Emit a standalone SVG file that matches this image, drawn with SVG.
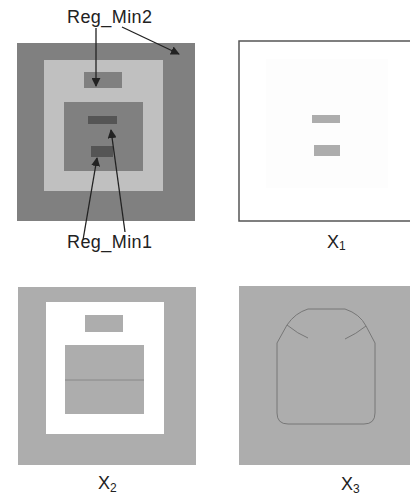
<svg xmlns="http://www.w3.org/2000/svg" width="410" height="496" viewBox="0 0 410 496">
<style>
.lbl{font-family:"Liberation Sans",Arial,sans-serif;font-size:18px;fill:#222}
.sub{font-size:12px}
.dk{fill:#808080}
.lt{fill:#c0c0c0}
.dd{fill:#555555}
.g2{fill:#adadad}
.arr{stroke:#222;stroke-width:1.3;fill:none;marker-end:url(#ah)}
</style>
<defs>
<marker id="ah" viewBox="0 0 10 10" refX="9" refY="5" markerWidth="9" markerHeight="9" markerUnits="userSpaceOnUse" orient="auto">
<path d="M0,0 L10,5 L0,10 Z" fill="#222"/>
</marker>
</defs>
<rect width="410" height="496" fill="#fff"/>
<g id="panel-original">
<rect class="dk" x="17" y="43" width="178" height="178"/>
<rect class="lt" x="44" y="60" width="119" height="131"/>
<rect class="dk" x="84" y="72" width="38" height="16"/>
<rect class="dk" x="64" y="102" width="79" height="69"/>
<rect class="dd" x="88" y="116" width="29" height="8"/>
<rect class="dd" x="91" y="146" width="22" height="11"/>
</g>
<g id="label-regmin2"><text class="lbl" x="67" y="23" textLength="85">Reg_Min2</text></g>
<g id="label-regmin1"><text class="lbl" x="67" y="248" textLength="85">Reg_Min1</text></g>
<g id="panel-x1">
<rect x="239" y="41" width="175" height="180" fill="#fff" stroke="#555" stroke-width="1.5"/>
<rect x="266" y="59" width="122" height="129" fill="#fdfdfd"/>
<rect class="g2" x="312" y="115" width="28" height="8"/>
<rect class="g2" x="314" y="145" width="26" height="11"/>
<text class="lbl" x="327" y="248">X<tspan class="sub" dy="2">1</tspan></text>
</g>
<g id="panel-x2">
<rect class="g2" x="18" y="287" width="178" height="178"/>
<rect x="46" y="302" width="118" height="132" fill="#fff"/>
<rect class="g2" x="85" y="315" width="38" height="17"/>
<rect class="g2" x="65" y="345" width="79" height="69"/>
<line x1="65" y1="380" x2="144" y2="380" stroke="#888" stroke-width="1"/>
<text class="lbl" x="98" y="489">X<tspan class="sub" dy="3">2</tspan></text>
</g>
<g id="panel-x3">
<rect class="g2" x="239" y="286" width="175" height="179"/>
<path d="M308,309 L345,309 Q360,314 366,326 L375,343 L375,413 Q375,424 364,424 L288,424 Q277,424 277,413 L277,343 L287,325 Q295,313 308,309 Z" fill="none" stroke="#777" stroke-width="1"/>
<path d="M287,325 Q298,334 308,338" fill="none" stroke="#777" stroke-width="1"/>
<path d="M366,326 Q356,334 345,339" fill="none" stroke="#777" stroke-width="1"/>
<text class="lbl" x="341" y="490">X<tspan class="sub" dy="3">3</tspan></text>
</g>
<g id="connectors">
<line class="arr" x1="96" y1="28" x2="96" y2="86"/>
<line class="arr" x1="122" y1="27" x2="179" y2="54"/>
<line class="arr" x1="83" y1="240" x2="97" y2="158"/>
<line class="arr" x1="125" y1="232" x2="111" y2="130"/>
</g>
</svg>
